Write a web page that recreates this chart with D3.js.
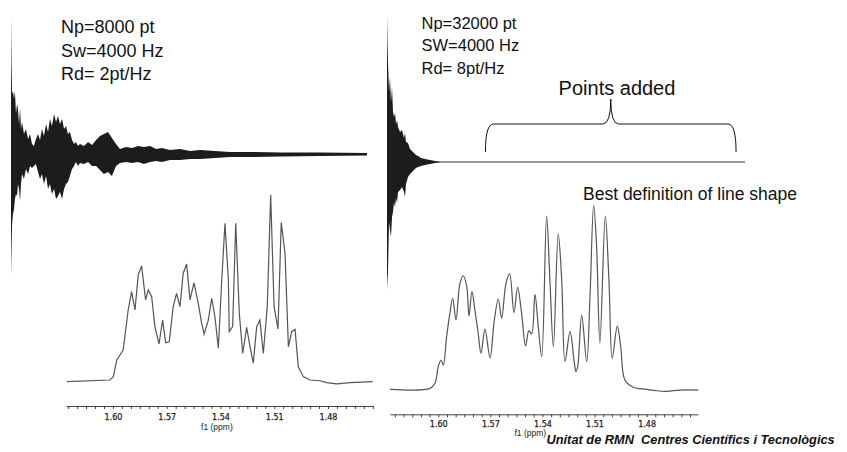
<!DOCTYPE html>
<html>
<head>
<meta charset="utf-8">
<script src="https://cdn.jsdelivr.net/npm/d3@7"></script>
<style>
  html, body { margin: 0; padding: 0; background: #fff; }
  svg { display: block; }
  text { font-family: "Liberation Sans", Arial, sans-serif; fill: #111; }
  .ppm text { font-family: "DejaVu Sans", Verdana, sans-serif; fill: #222; }
</style>
</head>
<body>
<script>
// --- FID 1: 8000 pt, acquisition time 2 s (envelope, arbitrary units)
const fid1Time = [0, 0.003, 0.006, 0.011, 0.017, 0.022, 0.028, 0.034, 0.039, 0.045, 0.051, 0.056, 0.062,
  0.073, 0.084, 0.096, 0.107, 0.118, 0.129, 0.140, 0.152, 0.163, 0.174, 0.185, 0.197, 0.208, 0.219,
  0.230, 0.242, 0.253, 0.264, 0.275, 0.287, 0.298, 0.309, 0.320, 0.331, 0.343, 0.354, 0.365, 0.376,
  0.388, 0.410, 0.433, 0.455, 0.478, 0.500, 0.522, 0.545, 0.567, 0.590, 0.612, 0.646, 0.680, 0.713,
  0.747, 0.781, 0.815, 0.848, 0.893, 0.949, 1.006, 1.062, 1.146, 1.230, 1.343, 1.511, 1.736, 2.0];
const fid1Hi = [138, 90, 60, 63, 55, 63, 40, 50, 45, 30, 46, 25, 32,
  20, 25, 15, 20, 10, 8, 15, 20, 14, 25, 18, 30, 22, 35,
  28, 40, 32, 38, 30, 35, 25, 28, 20, 22, 14, 10, 12, 8,
  10, 8, 12, 9, 14, 18, 20, 22, 16, 10, 5, 7, 6, 8,
  7, 8, 5, 6, 4, 5, 3, 4, 3, 2, 2, 1.5, 1.5, 1];
const fid1Lo = [-122, -95, -70, -60, -55, -45, -40, -42, -30, -35, -47, -30, -20,
  -25, -15, -20, -12, -14, -12, -10, -18, -25, -20, -30, -22, -35, -30,
  -40, -35, -45, -42, -38, -45, -35, -30, -28, -22, -15, -12, -8, -12,
  -9, -10, -8, -12, -12, -16, -20, -18, -22, -12, -9, -8, -9, -8,
  -10, -8, -7, -8, -6, -6, -5, -5, -4, -3, -3, -2.5, -2, -1.5];

// --- FID 2: 32000 pt, acquisition time 8 s (signal gone after ~1 s, rest is zero filling)
const fid2Time = [0, 0.011, 0.022, 0.045, 0.067, 0.089, 0.112, 0.134, 0.156, 0.179, 0.201, 0.224, 0.246,
  0.291, 0.335, 0.380, 0.402, 0.425, 0.469, 0.514, 0.581, 0.648, 0.693, 0.760, 0.849, 0.961, 1.073, 1.2];
const fid2Hi = [147, 120, 100, 70, 85, 60, 75, 50, 45, 49, 38, 42, 35,
  30, 32, 24, 29, 20, 19, 13, 10, 7, 6, 4, 3, 2, 1, 0];
const fid2Lo = [-128, -118, -110, -60, -68, -75, -55, -50, -40, -45, -36, -41, -30,
  -28, -25, -30, -35, -22, -15, -12, -9, -6, -5, -4, -3, -2, -1, 0];

// --- spectrum from the 8000 pt FID
const spec1Ppm = [1.6257, 1.6017, 1.5998, 1.5979, 1.5943, 1.5915, 1.5896, 1.5877, 1.5859, 1.5840, 1.5818,
  1.5803, 1.5784, 1.5766, 1.5743, 1.5723, 1.5706, 1.5686, 1.5664, 1.5645, 1.5626, 1.5608, 1.5589,
  1.5570, 1.5548, 1.5524, 1.5505, 1.5491, 1.5468, 1.5449, 1.5431, 1.5412, 1.5393, 1.5375, 1.5356,
  1.5351, 1.5332, 1.5315, 1.5295, 1.5276, 1.5254, 1.5235, 1.5217, 1.5198, 1.5180, 1.5161, 1.5139,
  1.5120, 1.5101, 1.5079, 1.5061, 1.5040, 1.5021, 1.5003, 1.4984, 1.4966, 1.4938, 1.4901, 1.4845,
  1.4807, 1.4752, 1.4677, 1.4551];
const spec1Int = [0, 0.9, 2.7, 11.6, 17.0, 38.4, 48.2, 38.4, 57.2, 62.0, 43.8,
  49.1, 45.5, 29.5, 20.2, 33.0, 20.9, 21.4, 40.2, 47.3, 40.2, 58.1, 63.0,
  43.8, 53.0, 42.0, 31.3, 25.5, 33.0, 44.7, 34.8, 17.9, 54.5, 84.8, 54.5,
  26.8, 29.5, 84.8, 36.6, 15.2, 29.1, 18.7, 9.9, 29.5, 33.0, 15.2, 40.2,
  100, 40.2, 28.2, 85.2, 68.8, 18.7, 26.8, 28.1, 8.0, 2.7, 0.9, 0.5,
  -0.5, -1.2, -0.5, 0];

// --- spectrum from the 32000 pt FID
const spec2Ppm = [1.6278, 1.6048, 1.6019, 1.6000, 1.5984, 1.5971, 1.5952, 1.5933, 1.5917, 1.5898, 1.5875,
  1.5856, 1.5836, 1.5823, 1.5806, 1.5789, 1.5770, 1.5754, 1.5731, 1.5702, 1.5677, 1.5654, 1.5635,
  1.5610, 1.5589, 1.5564, 1.5543, 1.5520, 1.5497, 1.5478, 1.5462, 1.5443, 1.5424, 1.5404, 1.5376,
  1.5357, 1.5337, 1.5309, 1.5289, 1.5270, 1.5241, 1.5217, 1.5207, 1.5197, 1.5174, 1.5145, 1.5126,
  1.5105, 1.5088, 1.5069, 1.5038, 1.5017, 1.4998, 1.4969, 1.4949, 1.4925, 1.4877, 1.4800, 1.4742,
  1.4684, 1.4608, 1.4502];
const spec2Int = [0, 0.5, 3.3, 12.3, 15.9, 13.2, 28.5, 41.2, 49.4, 37.6, 57.5,
  61.6, 55.7, 39.8, 53.0, 43.0, 30.4, 19.5, 32.7, 17.1, 37.6, 49.0, 38.5,
  57.5, 62.6, 41.6, 55.3, 41.2, 23.5, 31.8, 30.0, 51.5, 34.0, 17.7, 94.0,
  59.3, 23.1, 84.3, 59.3, 15.0, 31.3, 15.0, 9.6, 12.3, 40.3, 15.0, 50.2,
  100, 77.4, 25.0, 94.0, 59.3, 16.8, 34.3, 23.1, 5.0, 1.1, 0, -0.8,
  -1.1, -0.4, -0.4];

// axis ticks (ppm)
const majorTicks = [1.60, 1.57, 1.54, 1.51, 1.48];
const minorTicks = d3.range(1.455, 1.6251, 0.005).map(v => +v.toFixed(3));

// annotation texts
const fid1Labels = ['Np=8000 pt', 'Sw=4000 Hz', 'Rd= 2pt/Hz'];
const fid2Labels = ['Np=32000 pt', 'SW=4000 Hz', 'Rd= 8pt/Hz'];
const addedRange = [2.2, 7.8];   // seconds of zero filling marked by the brace

const width = 847, height = 452;

const svg = d3.select('body').append('svg')
    .attr('width', width)
    .attr('height', height);

svg.append('rect').attr('width', width).attr('height', height).attr('fill', '#fff');

// --- scales
const x1 = d3.scaleLinear().domain([0, 2]).range([11, 367]);
const y1 = d3.scaleLinear().domain([-140, 140]).range([294, 14]);
const x2 = d3.scaleLinear().domain([0, 8]).range([387, 745]);
const y2 = d3.scaleLinear().domain([-140, 140]).range([302, 22]);

const sx1 = d3.scaleLinear().domain([1.6262, 1.4549]).range([66, 373]);
const sy1 = d3.scaleLinear().domain([0, 100]).range([381.7, 195]);
const sx2 = d3.scaleLinear().domain([1.6278, 1.4504]).range([390, 698]);
const sy2 = d3.scaleLinear().domain([0, 100]).range([389.3, 205]);

// --- FIDs
function drawFid(times, hi, lo, x, y, baseFrom, baseTo, baseColor, baseWidth) {
    const rows = times.map((t, i) => ({ t, hi: hi[i], lo: lo[i] }));
    svg.append('line')
        .attr('x1', x(baseFrom)).attr('x2', x(baseTo))
        .attr('y1', y(0)).attr('y2', y(0))
        .attr('stroke', baseColor).attr('stroke-width', baseWidth);
    svg.append('path')
        .datum(rows)
        .attr('fill', '#1c1c1c')
        .attr('d', d3.area().x(d => x(d.t)).y0(d => y(d.lo)).y1(d => y(d.hi)));
}
drawFid(fid1Time, fid1Hi, fid1Lo, x1, y1, 0, 2, '#444', 1);
drawFid(fid2Time, fid2Hi, fid2Lo, x2, y2, 0.5, 8, '#999', 2);

// --- spectra
function drawSpectrum(ppm, inten, x, y, curve) {
    svg.append('path')
        .datum(ppm.map((p, i) => ({ p, v: inten[i] })))
        .attr('fill', 'none')
        .attr('stroke', '#555')
        .attr('stroke-width', 1.2)
        .attr('d', d3.line().x(d => x(d.p)).y(d => y(d.v)).curve(curve));
}
drawSpectrum(spec1Ppm, spec1Int, sx1, sy1, d3.curveLinear);
drawSpectrum(spec2Ppm, spec2Int, sx2, sy2, d3.curveCatmullRom.alpha(0.5));

// --- ppm axes
function drawAxis(x, yPos, pad, labelY, labelPpm) {
    const g = svg.append('g')
        .attr('class', 'ppm')
        .attr('transform', `translate(0,${yPos})`)
        .call(d3.axisBottom(x)
            .tickValues(minorTicks)
            .tickSize(3)
            .tickSizeOuter(0)
            .tickPadding(pad)
            .tickFormat(d => majorTicks.some(m => Math.abs(m - d) < 1e-6) ? d3.format('.2f')(d) : ''));
    g.select('.domain').attr('stroke', '#444');
    g.selectAll('.tick line').attr('stroke', '#444');
    g.selectAll('.tick text').attr('font-size', 8).attr('fill', '#222')
        .attr('stroke', '#222').attr('stroke-width', 0.25);
    svg.append('text')
        .attr('x', x(labelPpm)).attr('y', labelY)
        .attr('text-anchor', 'middle')
        .attr('font-family', '"DejaVu Sans", Verdana, sans-serif')
        .attr('font-size', 8.5)
        .style('fill', '#222')
        .text('f1 (ppm)');
}
drawAxis(sx1, 406, 5, 430, 1.542);
drawAxis(sx2, 414.3, 4.5, 436, 1.547);

// --- parameter labels
function drawLabels(lines, x, y0, step, size) {
    svg.append('g').selectAll('text')
        .data(lines)
        .join('text')
        .attr('x', x)
        .attr('y', (d, i) => y0 + i * step)
        .attr('font-size', size)
        .text(d => d);
}
drawLabels(fid1Labels, 61, 33.3, 23.3, 18);
drawLabels(fid2Labels, 421.5, 28.5, 22.5, 16.5);

// --- "Points added" brace over the zero-filled part of FID 2
const bx0 = x2(addedRange[0]), bx1 = x2(addedRange[1]), bm = (bx0 + bx1) / 2;
const yEnd = y2(10), yBar = y2(38), yTip = y2(63);
svg.append('path')
    .attr('fill', 'none')
    .attr('stroke', '#111')
    .attr('stroke-width', 1)
    .attr('d', `M${bx0},${yEnd} Q${bx0},${yBar} ${bx0 + 8},${yBar} L${bm - 8},${yBar} Q${bm},${yBar} ${bm},${yTip}
               Q${bm},${yBar} ${bm + 8},${yBar} L${bx1 - 8},${yBar} Q${bx1},${yBar} ${bx1},${yEnd}`);

svg.append('text')
    .attr('x', 617).attr('y', 95)
    .attr('text-anchor', 'middle')
    .attr('font-size', 20)
    .text('Points added');

svg.append('text')
    .attr('x', 583).attr('y', 200)
    .attr('font-size', 17.5)
    .text('Best definition of line shape');

// footer
svg.append('text')
    .attr('x', 546.5).attr('y', 444)
    .attr('font-size', 12.8)
    .attr('font-weight', 'bold')
    .attr('font-style', 'italic')
    .style('white-space', 'pre')
    .text('Unitat de RMN  Centres Científics i Tecnològics');
</script>
</body>
</html>
